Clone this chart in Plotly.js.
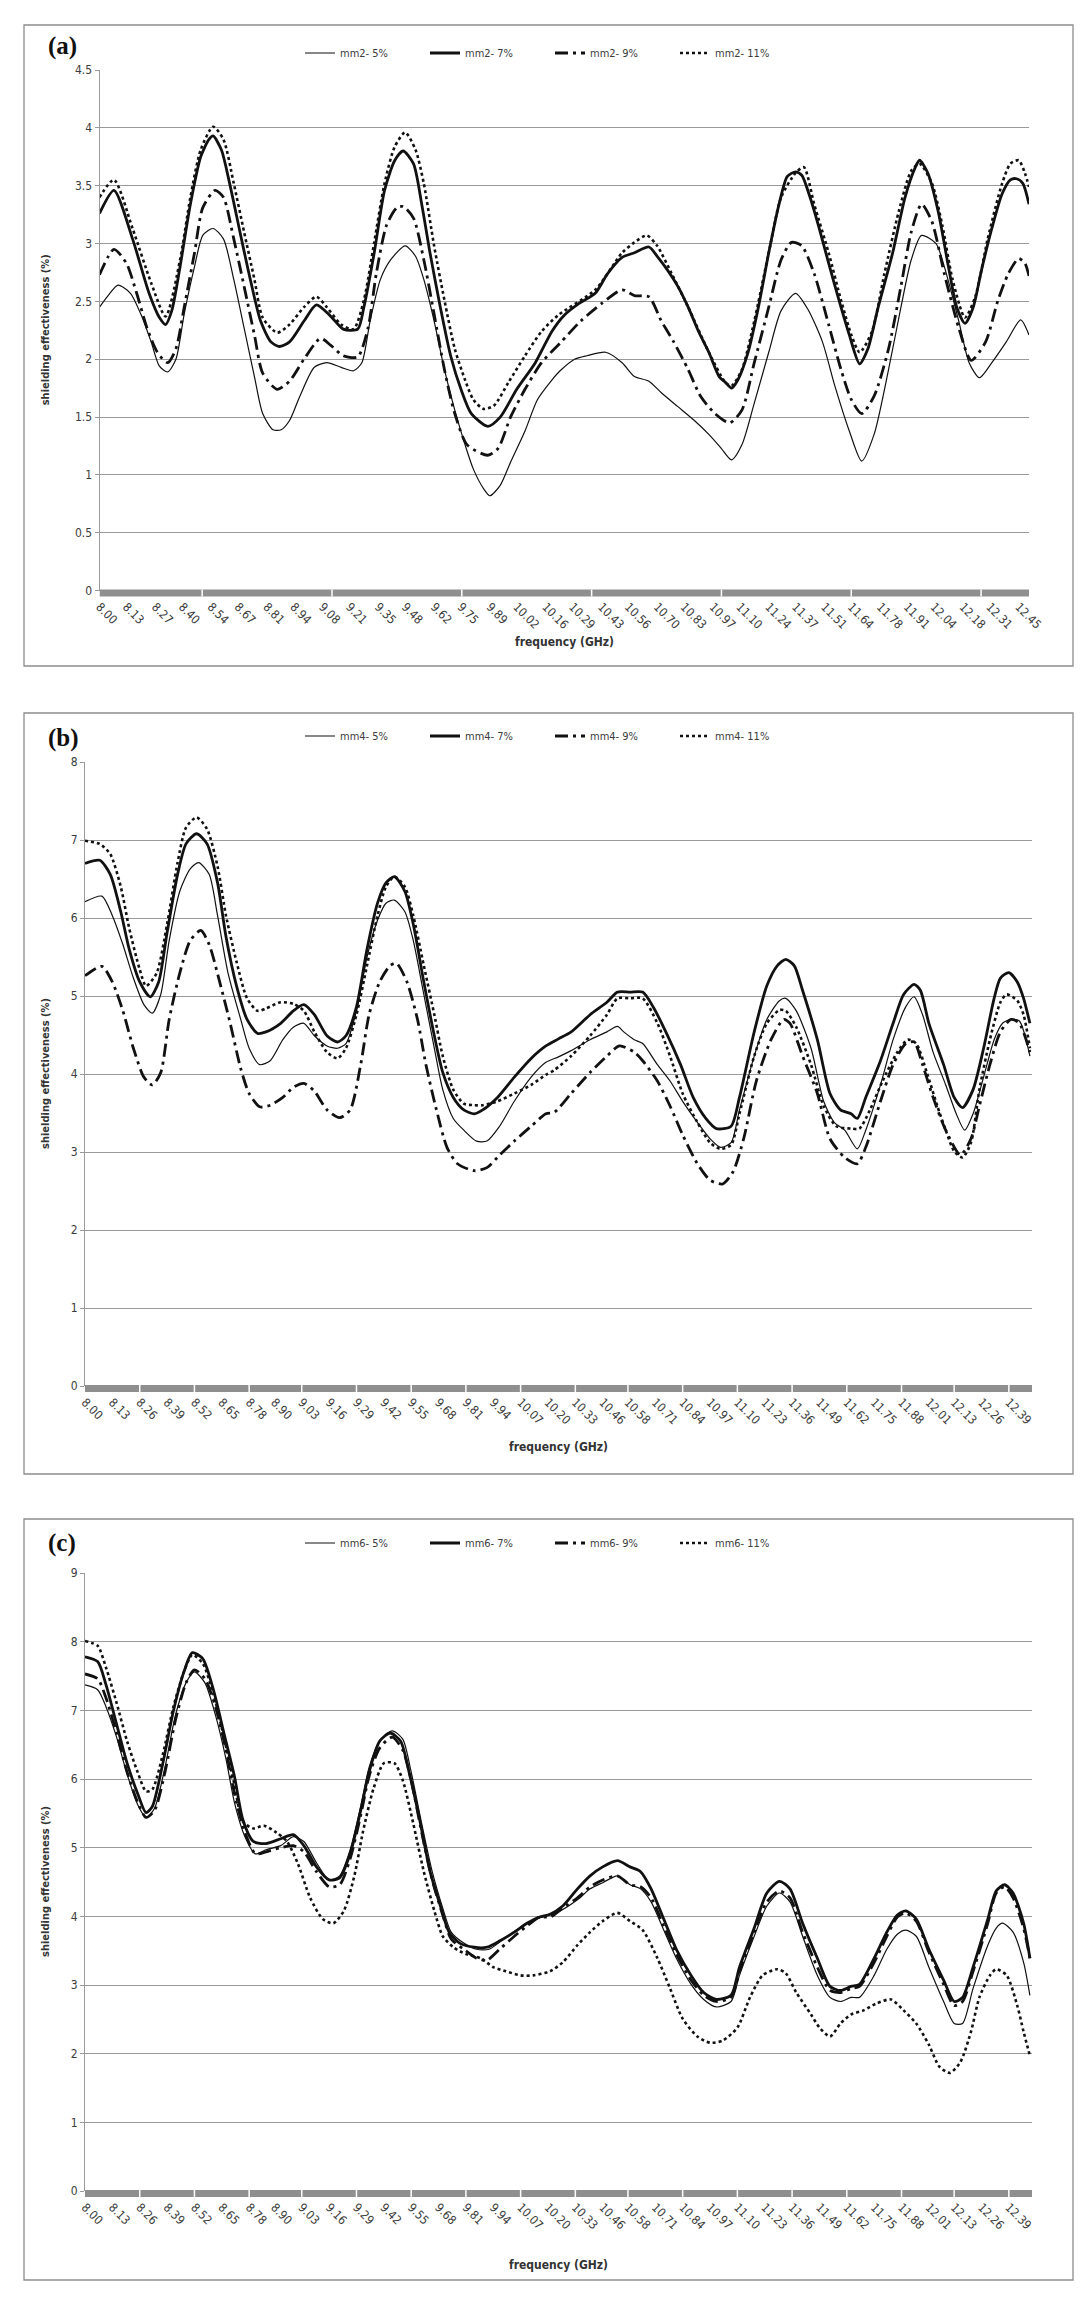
<!DOCTYPE html>
<html>
<head>
<meta charset="utf-8">
<script src="https://cdn.plot.ly/plotly-3.0.1.min.js"></script>
<style>
  html, body { margin: 0; padding: 0; background: #ffffff; }
  #chart { width: 1087px; height: 2298px; }
</style>
</head>
<body>
<div id="chart"></div>
<script>
// ---------- tick labels (frequency, GHz) ----------
const ticksA = ['8.00','8.13','8.27','8.40','8.54','8.67','8.81','8.94','9.08','9.21','9.35','9.48','9.62','9.75','9.89','10.02','10.16','10.29','10.43','10.56','10.70','10.83','10.97','11.10','11.24','11.37','11.51','11.64','11.78','11.91','12.04','12.18','12.31','12.45'];
const ticksBC = ['8.00','8.13','8.26','8.39','8.52','8.65','8.78','8.90','9.03','9.16','9.29','9.42','9.55','9.68','9.81','9.94','10.07','10.20','10.33','10.46','10.58','10.71','10.84','10.97','11.10','11.23','11.36','11.49','11.62','11.75','11.88','12.01','12.13','12.26','12.39'];

// ---------- series: [frequency (GHz), shielding effectiveness] ----------
// (a) mm2
const mm2_5 = [[8.00,2.45],[8.05,2.57],[8.09,2.64],[8.15,2.57],[8.20,2.39],[8.25,2.15],[8.29,1.94],[8.33,1.89],[8.37,2.00],[8.41,2.39],[8.46,2.80],[8.50,3.07],[8.55,3.13],[8.60,3.04],[8.65,2.69],[8.70,2.27],[8.75,1.85],[8.79,1.53],[8.84,1.39],[8.88,1.39],[8.92,1.47],[8.97,1.68],[9.04,1.93],[9.10,1.97],[9.17,1.93],[9.23,1.90],[9.27,1.97],[9.31,2.33],[9.36,2.69],[9.41,2.86],[9.48,2.98],[9.53,2.89],[9.57,2.69],[9.62,2.33],[9.67,1.91],[9.72,1.56],[9.77,1.26],[9.81,1.05],[9.86,0.88],[9.89,0.82],[9.94,0.91],[9.99,1.11],[10.06,1.38],[10.12,1.65],[10.19,1.82],[10.23,1.90],[10.30,2.00],[10.36,2.03],[10.45,2.06],[10.53,1.97],[10.59,1.85],[10.66,1.81],[10.72,1.71],[10.80,1.59],[10.88,1.47],[10.95,1.35],[11.01,1.23],[11.06,1.13],[11.11,1.26],[11.17,1.62],[11.24,2.06],[11.30,2.42],[11.37,2.57],[11.43,2.43],[11.50,2.15],[11.56,1.77],[11.63,1.38],[11.69,1.12],[11.75,1.35],[11.82,1.91],[11.88,2.45],[11.93,2.86],[11.98,3.07],[12.05,3.00],[12.09,2.80],[12.16,2.33],[12.21,1.97],[12.26,1.84],[12.32,1.97],[12.39,2.15],[12.46,2.34],[12.50,2.21]];
const mm2_7 = [[8.00,3.26],[8.07,3.46],[8.16,3.04],[8.24,2.57],[8.29,2.36],[8.32,2.30],[8.35,2.42],[8.39,2.80],[8.44,3.34],[8.49,3.75],[8.53,3.90],[8.55,3.93],[8.59,3.81],[8.63,3.52],[8.68,3.10],[8.73,2.69],[8.78,2.33],[8.83,2.15],[8.87,2.11],[8.92,2.15],[8.99,2.33],[9.05,2.47],[9.12,2.37],[9.18,2.26],[9.25,2.26],[9.28,2.45],[9.33,2.92],[9.38,3.46],[9.43,3.72],[9.47,3.80],[9.52,3.69],[9.56,3.34],[9.60,2.92],[9.65,2.45],[9.70,2.03],[9.75,1.74],[9.80,1.53],[9.88,1.42],[9.94,1.50],[10.02,1.74],[10.11,1.97],[10.19,2.24],[10.25,2.38],[10.32,2.48],[10.40,2.57],[10.46,2.74],[10.53,2.88],[10.59,2.92],[10.66,2.97],[10.70,2.89],[10.75,2.77],[10.80,2.63],[10.85,2.45],[10.90,2.24],[10.95,2.06],[11.00,1.85],[11.03,1.80],[11.06,1.75],[11.09,1.82],[11.14,2.06],[11.19,2.45],[11.24,2.92],[11.29,3.34],[11.33,3.58],[11.37,3.62],[11.40,3.59],[11.44,3.40],[11.48,3.16],[11.53,2.83],[11.58,2.51],[11.63,2.21],[11.68,1.96],[11.72,2.09],[11.77,2.45],[11.84,2.92],[11.90,3.40],[11.95,3.66],[11.97,3.72],[12.01,3.61],[12.06,3.28],[12.11,2.80],[12.15,2.45],[12.19,2.31],[12.23,2.45],[12.27,2.77],[12.32,3.13],[12.37,3.43],[12.41,3.55],[12.44,3.56],[12.47,3.52],[12.50,3.34]];
const mm2_9 = [[8.00,2.73],[8.07,2.95],[8.13,2.83],[8.18,2.57],[8.23,2.27],[8.28,2.06],[8.33,1.97],[8.37,2.09],[8.41,2.45],[8.46,2.92],[8.50,3.31],[8.56,3.46],[8.60,3.40],[8.65,3.04],[8.70,2.63],[8.75,2.21],[8.79,1.88],[8.86,1.74],[8.92,1.81],[8.99,2.00],[9.07,2.18],[9.12,2.12],[9.18,2.03],[9.25,2.02],[9.30,2.27],[9.34,2.74],[9.39,3.16],[9.44,3.31],[9.47,3.32],[9.52,3.22],[9.57,2.86],[9.62,2.39],[9.67,1.91],[9.72,1.53],[9.78,1.26],[9.88,1.17],[9.93,1.23],[9.99,1.50],[10.06,1.74],[10.14,1.97],[10.23,2.14],[10.33,2.33],[10.43,2.48],[10.53,2.60],[10.59,2.55],[10.66,2.54],[10.72,2.33],[10.78,2.15],[10.85,1.91],[10.91,1.68],[10.98,1.53],[11.05,1.45],[11.11,1.56],[11.17,1.97],[11.24,2.45],[11.30,2.86],[11.35,3.01],[11.40,2.98],[11.46,2.74],[11.53,2.30],[11.59,1.91],[11.64,1.65],[11.69,1.53],[11.75,1.68],[11.82,2.09],[11.88,2.63],[11.93,3.10],[11.98,3.34],[12.03,3.19],[12.09,2.74],[12.16,2.27],[12.22,1.99],[12.29,2.15],[12.35,2.51],[12.40,2.74],[12.45,2.87],[12.48,2.83],[12.50,2.72]];
const mm2_11 = [[8.00,3.40],[8.07,3.55],[8.16,3.13],[8.25,2.66],[8.32,2.37],[8.39,2.86],[8.44,3.40],[8.49,3.81],[8.55,4.01],[8.60,3.90],[8.65,3.52],[8.70,3.10],[8.75,2.69],[8.79,2.36],[8.86,2.23],[8.92,2.30],[8.99,2.45],[9.05,2.54],[9.10,2.45],[9.17,2.30],[9.23,2.26],[9.28,2.51],[9.33,3.01],[9.38,3.52],[9.43,3.84],[9.48,3.96],[9.53,3.81],[9.57,3.52],[9.62,2.98],[9.67,2.51],[9.72,2.09],[9.77,1.82],[9.81,1.65],[9.86,1.57],[9.91,1.60],[9.98,1.80],[10.06,2.03],[10.14,2.24],[10.22,2.38],[10.40,2.60],[10.53,2.92],[10.59,3.01],[10.65,3.07],[10.70,2.98],[10.77,2.74],[10.85,2.45],[10.95,2.06],[11.03,1.80],[11.06,1.77],[11.11,1.91],[11.17,2.33],[11.24,2.92],[11.30,3.40],[11.37,3.61],[11.41,3.66],[11.46,3.34],[11.53,2.92],[11.59,2.51],[11.64,2.21],[11.68,2.06],[11.74,2.24],[11.80,2.74],[11.87,3.28],[11.93,3.63],[11.97,3.69],[12.03,3.52],[12.08,3.16],[12.13,2.69],[12.19,2.36],[12.24,2.54],[12.30,3.04],[12.37,3.52],[12.41,3.69],[12.45,3.72],[12.48,3.61],[12.50,3.49]];

// (b) mm4
const mm4_5 = [[8.00,6.21],[8.08,6.28],[8.13,6.03],[8.18,5.66],[8.23,5.23],[8.28,4.89],[8.32,4.78],[8.36,5.02],[8.40,5.71],[8.45,6.34],[8.50,6.63],[8.54,6.71],[8.59,6.56],[8.63,6.03],[8.68,5.29],[8.74,4.70],[8.78,4.33],[8.83,4.12],[8.88,4.17],[8.94,4.44],[8.99,4.60],[9.04,4.65],[9.09,4.49],[9.15,4.36],[9.20,4.33],[9.24,4.39],[9.29,4.81],[9.34,5.50],[9.39,5.97],[9.43,6.19],[9.47,6.23],[9.52,6.08],[9.56,5.71],[9.61,5.02],[9.66,4.33],[9.70,3.80],[9.75,3.43],[9.80,3.28],[9.86,3.14],[9.91,3.14],[9.97,3.33],[10.04,3.65],[10.12,3.96],[10.19,4.15],[10.25,4.22],[10.31,4.30],[10.40,4.44],[10.48,4.54],[10.53,4.61],[10.56,4.54],[10.61,4.44],[10.65,4.39],[10.72,4.12],[10.78,3.91],[10.84,3.65],[10.91,3.38],[10.97,3.17],[11.02,3.06],[11.07,3.12],[11.11,3.54],[11.18,4.23],[11.24,4.70],[11.30,4.94],[11.33,4.97],[11.38,4.81],[11.45,4.33],[11.51,3.65],[11.56,3.38],[11.61,3.28],[11.67,3.04],[11.71,3.28],[11.78,3.86],[11.84,4.44],[11.90,4.86],[11.94,4.99],[11.98,4.76],[12.03,4.28],[12.09,3.86],[12.14,3.49],[12.18,3.28],[12.22,3.49],[12.27,3.96],[12.32,4.44],[12.36,4.65],[12.40,4.70],[12.44,4.68],[12.49,4.23]];
const mm4_7 = [[8.00,6.70],[8.07,6.74],[8.12,6.56],[8.17,6.08],[8.21,5.60],[8.26,5.18],[8.31,4.99],[8.35,5.18],[8.39,5.81],[8.44,6.56],[8.48,6.95],[8.53,7.08],[8.58,6.95],[8.63,6.45],[8.67,5.76],[8.72,5.13],[8.77,4.70],[8.82,4.52],[8.86,4.54],[8.93,4.65],[8.99,4.81],[9.04,4.89],[9.09,4.76],[9.15,4.49],[9.20,4.41],[9.24,4.49],[9.29,4.86],[9.34,5.60],[9.39,6.19],[9.43,6.45],[9.47,6.53],[9.52,6.34],[9.56,5.92],[9.61,5.18],[9.66,4.49],[9.70,4.02],[9.75,3.70],[9.80,3.54],[9.85,3.49],[9.89,3.54],[9.96,3.70],[10.04,3.96],[10.12,4.20],[10.19,4.36],[10.25,4.45],[10.31,4.54],[10.40,4.76],[10.48,4.92],[10.53,5.05],[10.59,5.05],[10.65,5.05],[10.70,4.86],[10.76,4.54],[10.83,4.12],[10.89,3.70],[10.95,3.43],[11.00,3.30],[11.07,3.33],[11.11,3.70],[11.18,4.54],[11.24,5.13],[11.29,5.39],[11.33,5.47],[11.37,5.39],[11.41,5.07],[11.48,4.44],[11.54,3.75],[11.59,3.54],[11.64,3.49],[11.67,3.43],[11.71,3.70],[11.78,4.17],[11.84,4.65],[11.89,5.02],[11.94,5.15],[11.97,5.07],[12.01,4.65],[12.08,4.12],[12.13,3.70],[12.17,3.57],[12.22,3.80],[12.27,4.33],[12.32,4.97],[12.35,5.23],[12.39,5.30],[12.43,5.18],[12.46,4.97],[12.49,4.65]];
const mm4_9 = [[8.00,5.26],[8.08,5.38],[8.13,5.18],[8.18,4.81],[8.23,4.33],[8.28,3.96],[8.32,3.86],[8.36,4.02],[8.40,4.70],[8.45,5.29],[8.50,5.71],[8.55,5.84],[8.59,5.66],[8.64,5.18],[8.69,4.65],[8.74,4.07],[8.78,3.75],[8.83,3.58],[8.88,3.60],[8.94,3.70],[8.99,3.83],[9.04,3.88],[9.09,3.78],[9.15,3.54],[9.21,3.44],[9.26,3.54],[9.31,4.12],[9.35,4.76],[9.40,5.18],[9.45,5.39],[9.48,5.42],[9.53,5.18],[9.58,4.70],[9.62,4.12],[9.67,3.54],[9.72,3.06],[9.77,2.85],[9.85,2.76],[9.91,2.80],[9.97,2.96],[10.04,3.14],[10.12,3.33],[10.19,3.49],[10.23,3.51],[10.31,3.75],[10.40,4.02],[10.48,4.23],[10.54,4.36],[10.61,4.28],[10.65,4.17],[10.72,3.91],[10.78,3.59],[10.84,3.22],[10.91,2.85],[10.97,2.64],[11.03,2.59],[11.08,2.75],[11.13,3.17],[11.19,3.91],[11.26,4.44],[11.32,4.70],[11.35,4.65],[11.41,4.23],[11.48,3.75],[11.54,3.17],[11.61,2.93],[11.67,2.85],[11.71,3.06],[11.78,3.65],[11.84,4.12],[11.90,4.39],[11.94,4.41],[11.98,4.12],[12.03,3.70],[12.09,3.28],[12.16,2.96],[12.21,3.17],[12.25,3.59],[12.30,4.12],[12.35,4.54],[12.40,4.70],[12.44,4.65],[12.49,4.28]];
const mm4_11 = [[8.00,6.99],[8.07,6.95],[8.12,6.82],[8.17,6.40],[8.21,5.87],[8.26,5.34],[8.29,5.13],[8.34,5.29],[8.39,5.92],[8.44,6.71],[8.48,7.16],[8.53,7.29],[8.58,7.14],[8.63,6.66],[8.67,6.03],[8.72,5.44],[8.77,4.97],[8.82,4.81],[8.86,4.84],[8.93,4.92],[8.99,4.90],[9.04,4.81],[9.09,4.54],[9.15,4.28],[9.20,4.20],[9.24,4.33],[9.29,4.76],[9.34,5.39],[9.39,6.03],[9.43,6.40],[9.47,6.53],[9.52,6.40],[9.56,6.03],[9.61,5.39],[9.66,4.76],[9.70,4.23],[9.75,3.80],[9.80,3.62],[9.85,3.60],[9.89,3.60],[9.96,3.65],[10.04,3.75],[10.12,3.86],[10.19,3.99],[10.23,4.05],[10.31,4.23],[10.40,4.49],[10.48,4.76],[10.53,4.97],[10.59,4.97],[10.65,4.97],[10.72,4.65],[10.78,4.23],[10.84,3.75],[10.91,3.38],[10.97,3.12],[11.02,3.04],[11.07,3.09],[11.11,3.49],[11.18,4.23],[11.24,4.65],[11.30,4.82],[11.33,4.81],[11.38,4.60],[11.45,4.12],[11.51,3.59],[11.57,3.33],[11.64,3.30],[11.68,3.30],[11.73,3.54],[11.79,3.91],[11.86,4.28],[11.91,4.44],[11.95,4.39],[12.00,4.02],[12.05,3.59],[12.09,3.28],[12.13,3.01],[12.17,2.93],[12.21,3.12],[12.25,3.80],[12.30,4.44],[12.35,4.92],[12.38,5.02],[12.43,4.94],[12.46,4.76],[12.49,4.33]];

// (c) mm6
const mm6_5 = [[8.00,7.37],[8.06,7.30],[8.10,7.05],[8.15,6.61],[8.20,6.07],[8.25,5.63],[8.29,5.44],[8.33,5.57],[8.38,6.17],[8.43,6.93],[8.48,7.40],[8.52,7.56],[8.57,7.40],[8.62,6.93],[8.67,6.29],[8.71,5.66],[8.76,5.16],[8.81,4.91],[8.86,4.97],[8.93,5.03],[8.99,5.16],[9.04,5.09],[9.10,4.78],[9.16,4.53],[9.21,4.59],[9.26,4.97],[9.31,5.60],[9.35,6.17],[9.40,6.55],[9.46,6.70],[9.51,6.58],[9.55,6.10],[9.60,5.35],[9.65,4.65],[9.70,4.12],[9.74,3.77],[9.80,3.61],[9.86,3.52],[9.92,3.52],[9.99,3.67],[10.05,3.80],[10.12,3.93],[10.18,4.00],[10.24,4.05],[10.34,4.24],[10.40,4.40],[10.46,4.49],[10.53,4.59],[10.59,4.46],[10.64,4.40],[10.69,4.21],[10.75,3.80],[10.81,3.39],[10.88,3.01],[10.94,2.79],[11.00,2.68],[11.07,2.76],[11.11,3.14],[11.18,3.71],[11.24,4.15],[11.30,4.34],[11.35,4.21],[11.41,3.71],[11.48,3.14],[11.54,2.82],[11.59,2.76],[11.64,2.82],[11.68,2.82],[11.75,3.14],[11.81,3.52],[11.86,3.74],[11.90,3.80],[11.95,3.71],[12.01,3.26],[12.08,2.76],[12.13,2.44],[12.17,2.44],[12.22,2.95],[12.29,3.58],[12.33,3.83],[12.36,3.90],[12.41,3.77],[12.46,3.33],[12.49,2.85]];
const mm6_7 = [[8.00,7.78],[8.06,7.71],[8.10,7.37],[8.15,6.80],[8.20,6.23],[8.25,5.79],[8.29,5.51],[8.32,5.60],[8.37,6.23],[8.42,6.99],[8.47,7.56],[8.51,7.84],[8.56,7.75],[8.61,7.30],[8.66,6.67],[8.71,6.04],[8.75,5.41],[8.80,5.09],[8.86,5.06],[8.93,5.13],[8.99,5.19],[9.04,5.03],[9.10,4.72],[9.16,4.53],[9.21,4.56],[9.26,4.91],[9.31,5.54],[9.35,6.10],[9.40,6.55],[9.45,6.67],[9.50,6.55],[9.54,6.10],[9.59,5.41],[9.64,4.65],[9.69,4.14],[9.73,3.77],[9.78,3.61],[9.85,3.55],[9.91,3.55],[9.97,3.64],[10.04,3.77],[10.10,3.90],[10.16,3.99],[10.21,4.03],[10.27,4.15],[10.34,4.40],[10.40,4.59],[10.46,4.72],[10.53,4.81],[10.59,4.72],[10.64,4.65],[10.69,4.40],[10.75,3.96],[10.81,3.52],[10.88,3.14],[10.94,2.89],[11.00,2.79],[11.07,2.85],[11.11,3.26],[11.18,3.83],[11.24,4.34],[11.30,4.51],[11.35,4.40],[11.41,3.90],[11.48,3.39],[11.54,2.98],[11.59,2.92],[11.64,2.98],[11.68,3.01],[11.75,3.39],[11.81,3.77],[11.86,4.02],[11.90,4.08],[11.95,3.96],[12.01,3.52],[12.08,3.07],[12.13,2.76],[12.17,2.82],[12.22,3.26],[12.29,3.96],[12.33,4.37],[12.37,4.46],[12.41,4.34],[12.46,3.90],[12.49,3.39]];
const mm6_9 = [[8.00,7.53],[8.06,7.46],[8.10,7.18],[8.15,6.67],[8.20,6.10],[8.25,5.66],[8.29,5.44],[8.33,5.54],[8.38,6.10],[8.43,6.86],[8.48,7.40],[8.52,7.59],[8.57,7.46],[8.62,7.05],[8.67,6.42],[8.71,5.79],[8.76,5.22],[8.81,4.91],[8.86,4.94],[8.93,5.00],[8.99,5.03],[9.04,4.94],[9.10,4.65],[9.16,4.43],[9.21,4.46],[9.26,4.84],[9.31,5.47],[9.35,6.04],[9.40,6.45],[9.46,6.61],[9.51,6.42],[9.55,5.98],[9.60,5.22],[9.65,4.53],[9.70,4.02],[9.74,3.67],[9.80,3.52],[9.86,3.39],[9.91,3.36],[9.97,3.52],[10.04,3.71],[10.10,3.86],[10.16,3.99],[10.21,3.99],[10.27,4.12],[10.34,4.27],[10.40,4.43],[10.46,4.53],[10.53,4.59],[10.59,4.46],[10.64,4.43],[10.69,4.27],[10.75,3.86],[10.81,3.45],[10.88,3.07],[10.94,2.85],[11.00,2.76],[11.07,2.82],[11.11,3.20],[11.18,3.77],[11.24,4.21],[11.30,4.37],[11.35,4.27],[11.41,3.77],[11.48,3.26],[11.54,2.92],[11.59,2.89],[11.64,2.95],[11.68,2.98],[11.75,3.33],[11.81,3.71],[11.86,3.99],[11.90,4.05],[11.95,3.93],[12.01,3.48],[12.08,3.01],[12.13,2.70],[12.17,2.76],[12.22,3.20],[12.29,3.90],[12.33,4.34],[12.37,4.43],[12.41,4.27],[12.46,3.83],[12.49,3.39]];
const mm6_11 = [[8.00,8.01],[8.06,7.94],[8.10,7.62],[8.15,7.11],[8.20,6.55],[8.25,6.10],[8.29,5.82],[8.32,5.85],[8.37,6.36],[8.42,7.05],[8.47,7.56],[8.51,7.81],[8.56,7.68],[8.61,7.24],[8.66,6.61],[8.71,5.92],[8.75,5.38],[8.80,5.28],[8.85,5.32],[8.91,5.22],[8.96,5.09],[9.01,4.78],[9.07,4.27],[9.13,3.96],[9.18,3.90],[9.23,4.08],[9.28,4.59],[9.32,5.22],[9.37,5.85],[9.42,6.23],[9.47,6.23],[9.51,5.98],[9.56,5.35],[9.61,4.65],[9.66,4.08],[9.70,3.71],[9.75,3.55],[9.81,3.45],[9.88,3.39],[9.94,3.26],[10.00,3.20],[10.07,3.14],[10.13,3.14],[10.21,3.20],[10.27,3.33],[10.34,3.58],[10.40,3.77],[10.46,3.93],[10.53,4.05],[10.59,3.93],[10.65,3.80],[10.72,3.39],[10.78,2.95],[10.84,2.51],[10.91,2.25],[10.97,2.16],[11.03,2.19],[11.10,2.38],[11.16,2.82],[11.22,3.14],[11.29,3.23],[11.33,3.17],[11.38,2.89],[11.45,2.57],[11.49,2.38],[11.54,2.25],[11.59,2.44],[11.64,2.57],[11.70,2.63],[11.76,2.73],[11.83,2.79],[11.89,2.63],[11.95,2.44],[12.01,2.13],[12.06,1.81],[12.11,1.72],[12.16,1.88],[12.21,2.32],[12.25,2.82],[12.30,3.14],[12.33,3.23],[12.38,3.14],[12.43,2.70],[12.46,2.32],[12.49,1.97]];

// ---------- page geometry (pixels) ----------
const W = 1087, H = 2298;
const px = x => x / W;          // pixel x -> paper
const py = y => 1 - y / H;      // pixel y -> paper

const FONT = '"Liberation Sans Narrow", "DejaVu Sans Condensed", "Arial Narrow", sans-serif';
const TXT = '#3c3c3c';
const GRID = '#9a9a9a';

// line styles for the four loadings: 5%, 7%, 9%, 11%
const lineStyles = [
  { width: 1.2, dash: 'solid' },
  { width: 2.8, dash: 'solid' },
  { width: 2.8, dash: '13px,5px,3px,5px' },
  { width: 2.6, dash: '3px,3px' }
];

const panels = [
  { ax: '', leg: 'legend', tag: '(a)', prefix: 'mm2- ', series: [mm2_5, mm2_7, mm2_9, mm2_11],
    plot: { x0: 99.5, x1: 1029, y0: 70, y1: 590.6 }, box: [24, 25, 1073, 666],
    ymax: 4.5, dtick: 0.5, ticks: ticksA,
    sep: { start: 8.497, step: 0.6285, count: 7 },
    legendY: 53, tagY: 46, xTitleY: 642 },
  { ax: '2', leg: 'legend2', tag: '(b)', prefix: 'mm4- ', series: [mm4_5, mm4_7, mm4_9, mm4_11],
    plot: { x0: 85, x1: 1032, y0: 762, y1: 1386 }, box: [24, 713, 1073, 1474],
    ymax: 8, dtick: 1, ticks: ticksBC, sep: null,
    legendY: 736, tagY: 738, xTitleY: 1447 },
  { ax: '3', leg: 'legend3', tag: '(c)', prefix: 'mm6- ', series: [mm6_5, mm6_7, mm6_9, mm6_11],
    plot: { x0: 85, x1: 1032, y0: 1573, y1: 2191 }, box: [24, 1519, 1073, 2280],
    ymax: 9, dtick: 1, ticks: ticksBC, sep: null,
    legendY: 1543, tagY: 1543, xTitleY: 2265 }
];
const loadings = ['5%', '7%', '9%', '11%'];

const traces = [];
const layout = {
  width: W, height: H,
  margin: { l: 0, r: 0, t: 0, b: 0 },
  paper_bgcolor: '#ffffff', plot_bgcolor: '#ffffff',
  showlegend: true,
  shapes: [], annotations: []
};

panels.forEach(p => {
  const xa = 'xaxis' + p.ax, ya = 'yaxis' + p.ax;
  const xr = 'x' + p.ax, yr = 'y' + p.ax;

  p.series.forEach((s, i) => {
    traces.push({
      type: 'scatter', mode: 'lines',
      x: s.map(d => d[0]), y: s.map(d => d[1]),
      xaxis: xr, yaxis: yr,
      name: p.prefix + loadings[i],
      legend: p.leg,
      line: { color: '#111111', width: lineStyles[i].width, dash: lineStyles[i].dash, shape: 'spline', smoothing: 0.7 },
      hoverinfo: 'skip'
    });
  });

  layout[xa] = {
    domain: [px(p.plot.x0), px(p.plot.x1)], anchor: yr,
    range: [8, 12.5], showgrid: false, zeroline: false, showline: false,
    tickmode: 'array', tickvals: p.ticks.map(Number), ticktext: p.ticks,
    tickangle: 45, ticks: '', ticklabelstandoff: 6,
    tickfont: { family: FONT, size: 12, color: TXT }
  };
  layout[ya] = {
    domain: [py(p.plot.y1), py(p.plot.y0)], anchor: xr,
    range: [0, p.ymax], dtick: p.dtick, tick0: 0,
    showgrid: true, gridcolor: GRID, gridwidth: 1, zeroline: false,
    showline: true, linecolor: GRID, linewidth: 1,
    ticks: 'outside', ticklen: 4, tickcolor: GRID,
    tickfont: { family: FONT, size: 12, color: TXT }
  };

  layout[p.leg] = {
    orientation: 'h', x: px(300), xanchor: 'left', y: py(p.legendY), yanchor: 'middle',
    font: { family: FONT, size: 11, color: TXT },
    bgcolor: 'rgba(0,0,0,0)', borderwidth: 0,
    entrywidth: 80, entrywidthmode: 'pixels', traceorder: 'normal'
  };

  // chart frame
  layout.shapes.push({
    type: 'rect', xref: 'paper', yref: 'paper', layer: 'below',
    x0: px(p.box[0]), x1: px(p.box[2]), y0: py(p.box[3]), y1: py(p.box[1]),
    line: { color: '#8d8d8d', width: 1.3 }, fillcolor: 'rgba(0,0,0,0)'
  });
  // category-axis band along zero
  layout.shapes.push({
    type: 'rect', xref: xr, yref: 'paper', layer: 'above',
    x0: 8, x1: 12.5, y0: py(p.plot.y1 + 6), y1: py(p.plot.y1 - 1),
    fillcolor: '#8f8f8f', line: { width: 0 }
  });
  // divisions in the band
  const sepVals = [];
  if (p.sep) {
    for (let k = 0; k < p.sep.count; k++) sepVals.push(p.sep.start + k * p.sep.step);
  } else {
    for (let k = 2; k < p.ticks.length; k += 2) sepVals.push(Number(p.ticks[k]));
  }
  sepVals.forEach(v => layout.shapes.push({
    type: 'line', xref: xr, yref: 'paper', layer: 'above',
    x0: v, x1: v, y0: py(p.plot.y1 + 6), y1: py(p.plot.y1 - 1),
    line: { color: '#ffffff', width: 1.5 }
  }));

  // panel tag
  layout.annotations.push({
    xref: 'paper', yref: 'paper', x: px(46), y: py(p.tagY), xanchor: 'left', yanchor: 'middle',
    text: '<b>' + p.tag + '</b>', showarrow: false,
    font: { family: '"Liberation Serif", "DejaVu Serif", serif', size: 25, color: '#111111' }
  });
  // axis titles
  layout.annotations.push({
    xref: 'paper', yref: 'paper', x: px((p.plot.x0 + p.plot.x1) / 2), y: py(p.xTitleY),
    xanchor: 'center', yanchor: 'middle', showarrow: false,
    text: '<b>frequency (GHz)</b>', font: { family: FONT, size: 12, color: '#333333' }
  });
  layout.annotations.push({
    xref: 'paper', yref: 'paper', x: px(45), y: py((p.plot.y0 + p.plot.y1) / 2),
    xanchor: 'center', yanchor: 'middle', showarrow: false, textangle: -90,
    text: '<b>shielding effectiveness (%)</b>', font: { family: FONT, size: 11, color: '#333333' }
  });
});

Plotly.newPlot('chart', traces, layout, { displayModeBar: false, staticPlot: true });
</script>
</body>
</html>
